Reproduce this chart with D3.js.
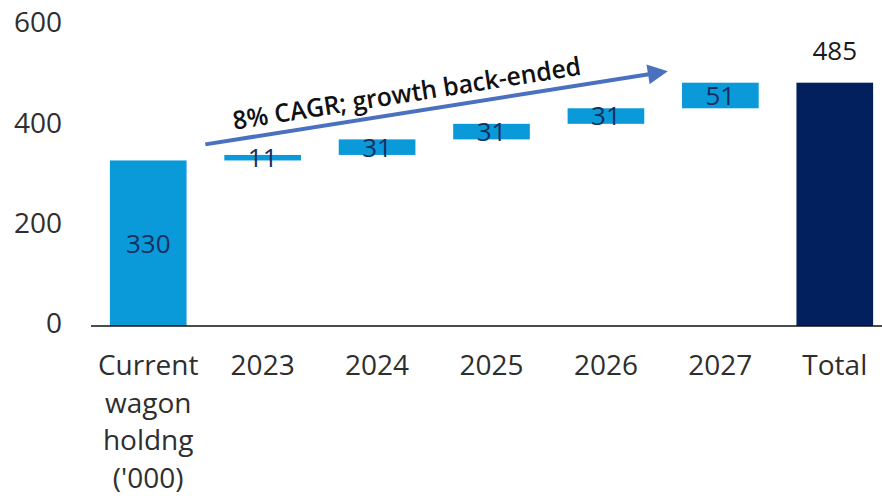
<!DOCTYPE html>
<html>
<head>
<meta charset="utf-8">
<script src="https://cdn.jsdelivr.net/npm/d3@7"></script>
<style>
  html, body { margin: 0; padding: 0; background: #fff; }
  svg { display: block; }
  text { font-family: "Open Sans", "Noto Sans", sans-serif; }
</style>
</head>
<body>
<svg id="chart" width="882" height="498"></svg>
<script>
// Wagon fleet build-up, thousands of wagons
const categories = ["current", "2023", "2024", "2025", "2026", "2027", "total"];
const categoryLabels = [
  ["Current", "wagon", "holdng", "('000)"],
  ["2023"], ["2024"], ["2025"], ["2026"], ["2027"], ["Total"]
];
const values = [330, 11, 31, 31, 31, 51, 485];
const barKinds = ["base", "step", "step", "step", "step", "step", "total"];
const yTicks = [0, 200, 400, 600];
const annotation = "8% CAGR; growth back-ended";
// arrow runs from just before the 2023 step up to just before the 2027 step
const arrowFrom = { cat: "2023", value: 362 };
const arrowTo = { cat: "2027", value: 503 };

const colors = { base: "#0a9ad9", step: "#0a9ad9", total: "#03205e" };

const svg = d3.select("#chart");

const x = d3.scaleBand()
  .domain(categories)
  .range([91, 892])
  .paddingInner(0.33)
  .paddingOuter(0.165);

const y = d3.scaleLinear()
  .domain([0, 600])
  .range([326, 25]);

// running totals give each floating step its start and end
let running = 0;
const bars = values.map((v, i) => {
  let lo, hi;
  if (barKinds[i] === "step") { lo = running; hi = running + v; running = hi; }
  else if (barKinds[i] === "base") { lo = 0; hi = v; running = v; }
  else { lo = 0; hi = v; }
  return { cat: categories[i], kind: barKinds[i], value: v, lo, hi };
});

// y-axis tick labels (no axis line)
const yAxis = d3.axisLeft(y).tickValues(yTicks).tickSize(0).tickPadding(0);
const yG = svg.append("g")
  .attr("transform", "translate(62,-2)")
  .call(yAxis);
yG.select(".domain").remove();
yG.selectAll("text")
  .attr("fill", "#2e2e2e")
  .style("font-size", "28px")
  .style("font-family", "'Open Sans', sans-serif");

// bars
svg.append("g").selectAll("rect")
  .data(bars)
  .join("rect")
  .attr("x", d => x(d.cat))
  .attr("width", x.bandwidth())
  .attr("y", d => y(d.hi))
  .attr("height", d => Math.max(3, y(d.lo) - y(d.hi)))
  .attr("fill", d => colors[d.kind]);

// value labels: inside the bar for base and steps, above it for the total
svg.append("g").selectAll("text")
  .data(bars)
  .join("text")
  .attr("x", d => x(d.cat) + x.bandwidth() / 2)
  .attr("y", d => d.kind === "total" ? y(d.hi) - 23 : y((d.lo + d.hi) / 2))
  .attr("dy", d => d.kind === "total" ? 0 : "0.36em")
  .attr("text-anchor", "middle")
  .attr("fill", d => d.kind === "total" ? "#1a1a1a" : "#14305e")
  .style("font-size", "26px")
  .text(d => d.value);

// x-axis baseline
svg.append("line")
  .attr("x1", 91).attr("x2", 882)
  .attr("y1", y(0)).attr("y2", y(0))
  .attr("stroke", "#111")
  .attr("stroke-width", 1.6);

// category labels
const xl = svg.append("g").selectAll("text")
  .data(categories)
  .join("text")
  .attr("x", d => x(d) + x.bandwidth() / 2)
  .attr("y", y(0) + 49)
  .attr("text-anchor", "middle")
  .attr("fill", "#2e2e2e")
  .style("font-size", "28px");
xl.each(function(d, i) {
  const t = d3.select(this);
  categoryLabels[i].forEach((line, j) => {
    t.append("tspan")
      .attr("x", x(d) + x.bandwidth() / 2)
      .attr("dy", j === 0 ? 0 : 37.5)
      .text(line);
  });
});

// growth arrow
const defs = svg.append("defs");
defs.append("marker")
  .attr("id", "head")
  .attr("viewBox", "0 0 10 10")
  .attr("refX", 2).attr("refY", 5)
  .attr("markerWidth", 5.5).attr("markerHeight", 5)
  .attr("orient", "auto")
  .attr("markerUnits", "strokeWidth")
  .append("path")
  .attr("d", "M0,0 L10,5 L0,10 Z")
  .attr("fill", "#4a70c0");

const ax1 = x(arrowFrom.cat) - 19, ay1 = y(arrowFrom.value);
const ax2 = x(arrowTo.cat) - 30, ay2 = y(arrowTo.value);
svg.append("line")
  .attr("x1", ax1).attr("y1", ay1)
  .attr("x2", ax2).attr("y2", ay2)
  .attr("stroke", "#4a70c0")
  .attr("stroke-width", 4)
  .attr("marker-end", "url(#head)");

const angle = Math.atan2(ay2 - ay1, ax2 - ax1) * 180 / Math.PI;
svg.append("text")
  .attr("transform", `translate(${ax1},${ay1}) rotate(${angle}) translate(31,-10)`)
  .attr("fill", "#111")
  .style("font-size", "25.5px")
  .style("font-weight", 600)
  .attr("textLength", 352)
  .attr("lengthAdjust", "spacingAndGlyphs")
  .text(annotation);
</script>
</body>
</html>
